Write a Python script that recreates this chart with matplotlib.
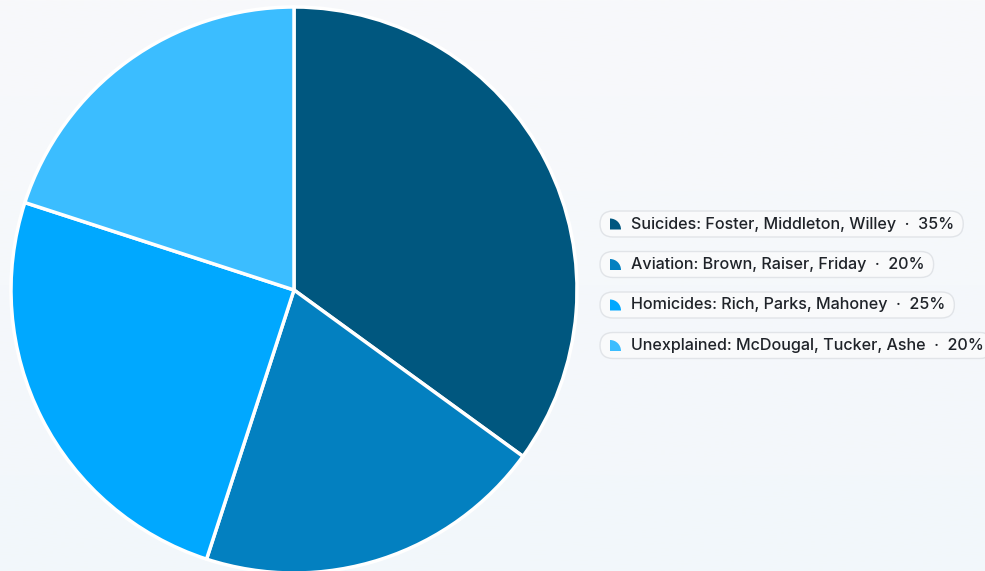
import numpy as np
import matplotlib.pyplot as plt
from matplotlib.patches import FancyBboxPatch, Wedge

plt.rcParams['font.family'] = ['Inter', 'DejaVu Sans']

categories = ["Suicides: Foster, Middleton, Willey",
              "Aviation: Brown, Raiser, Friday",
              "Homicides: Rich, Parks, Mahoney",
              "Unexplained: McDougal, Tucker, Ashe"]
values = [35, 20, 25, 20]
colors = ["#00577f", "#0380c0", "#00a8ff", "#3bbdff"]

W, H = 985, 571
fig = plt.figure(figsize=(W / 100, H / 100), dpi=100)

# background gradient
bg = fig.add_axes([0, 0, 1, 1])
grad = np.linspace(0, 1, 256).reshape(-1, 1)
top = np.array([248, 249, 251]) / 255
bot = np.array([242, 247, 251]) / 255
img = top + (bot - top) * grad[..., None]
bg.imshow(img, aspect='auto', extent=[0, 1, 0, 1])
bg.axis('off')

# pie
cx, cy, r = 294, 290, 283
ax = fig.add_axes([(cx - r) / W, (H - cy - r) / H, 2 * r / W, 2 * r / H])
ax.pie(values, colors=colors, startangle=90, counterclock=False,
       wedgeprops=dict(edgecolor='white', linewidth=2.5, joinstyle='round'))
ax.set_xlim(-1, 1)
ax.set_ylim(-1, 1)
ax.set_aspect('equal')
ax.axis('off')

# legend overlay in pixel coords
ov = fig.add_axes([0, 0, 1, 1])
ov.set_xlim(0, W)
ov.set_ylim(H, 0)
ov.axis('off')

renderer = fig.canvas.get_renderer()
total = sum(values)
y0, dy = 224, 40.5
for i, (cat, val, col) in enumerate(zip(categories, values, colors)):
    y = y0 + i * dy
    label = f"{cat}  \u00b7  {val / total * 100:.0f}%"
    t = ov.text(631, y, label, fontsize=11.6, color='#1f2329',
                fontweight='medium', va='center', ha='left', zorder=3)
    bb = t.get_window_extent(renderer)
    x1 = bb.x1 + 9
    pill = FancyBboxPatch((600, y - 13), x1 - 600, 26,
                          boxstyle="round,pad=0,rounding_size=13",
                          facecolor='#f9fafb', edgecolor='#e1e4e8',
                          linewidth=1, zorder=2, clip_on=False)
    ov.add_patch(pill)
    icon = Wedge((610, y + 5.5), 11, 270, 360, facecolor=col,
                 edgecolor='none', zorder=3)
    ov.add_patch(icon)

fig.savefig("out.png", dpi=100)
